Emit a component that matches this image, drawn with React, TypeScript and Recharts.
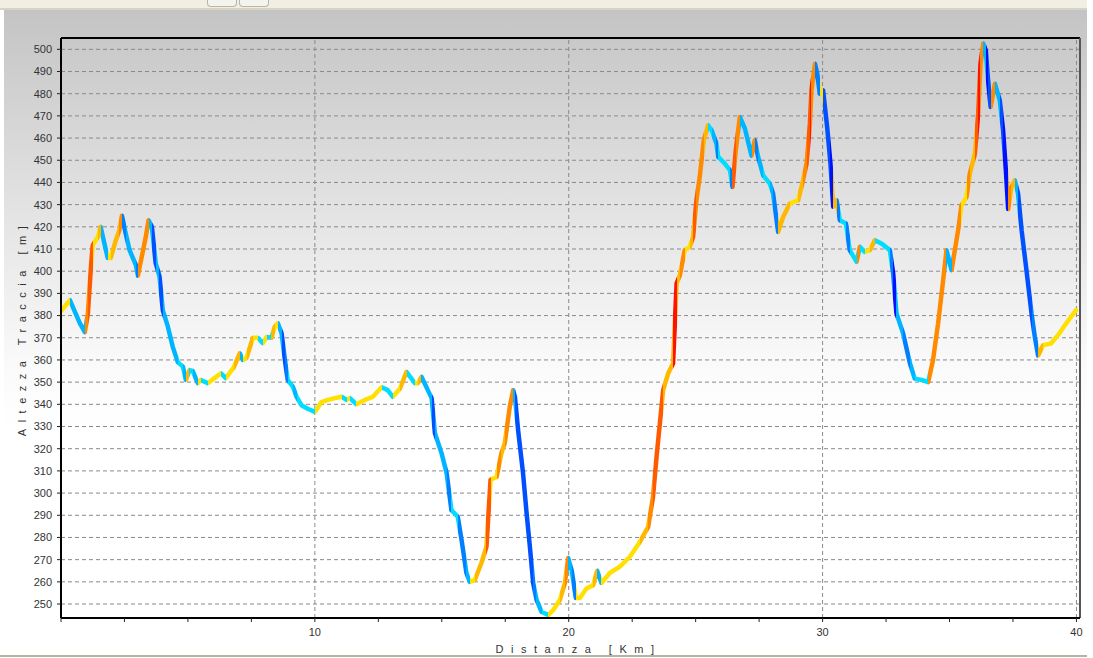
import React from "react";
import {
  LineChart,
  Line,
  XAxis,
  YAxis,
  CartesianGrid,
  ReferenceLine,
  Label,
} from "recharts";

// distance along the track (km) and the altitude at that point (m)
const distanceKm = [
  0.0, 0.35, 0.74, 0.94, 1.06, 1.19, 1.25, 1.45, 1.56, 1.84, 1.96, 2.16, 2.3, 2.4, 2.55, 2.7,
  2.95, 3.03, 3.22, 3.34, 3.45, 3.58, 3.73, 3.88, 4.01, 4.21, 4.4, 4.6, 4.8, 4.92, 5.06, 5.19,
  5.39, 5.51, 5.78, 6.05, 6.3, 6.49, 6.8, 7.04, 7.16, 7.31, 7.56, 7.75, 7.95, 8.1, 8.29, 8.42,
  8.54, 8.69, 8.82, 8.93, 9.13, 9.28, 9.47, 9.72, 10.0, 10.26, 10.51, 10.79, 11.05, 11.25,
  11.38, 11.64, 11.97, 12.28, 12.63, 12.87, 13.07, 13.35, 13.61, 13.94, 14.06, 14.2, 14.45,
  14.6, 14.73, 14.99, 15.19, 15.38, 15.63, 15.78, 15.97, 16.1, 16.3, 16.56, 16.76, 16.92,
  17.16, 17.35, 17.48, 17.68, 17.81, 17.88, 18.01, 18.2, 18.34, 18.47, 18.6, 18.73, 18.93,
  19.19, 19.39, 19.65, 19.85, 19.98, 20.12, 20.28, 20.44, 20.7, 20.96, 21.12, 21.29, 21.62,
  22.01, 22.41, 22.8, 23.13, 23.32, 23.46, 23.59, 23.72, 23.92, 24.11, 24.18, 24.25, 24.38,
  24.57, 24.77, 24.9, 25.03, 25.16, 25.32, 25.49, 25.63, 25.82, 25.89, 26.15, 26.35, 26.45,
  26.58, 26.74, 26.94, 27.2, 27.33, 27.46, 27.66, 27.92, 28.05, 28.25, 28.45, 28.71, 29.04,
  29.23, 29.37, 29.5, 29.56, 29.7, 29.79, 29.89, 30.02, 30.18, 30.31, 30.42, 30.55, 30.68,
  30.92, 31.07, 31.34, 31.47, 31.66, 31.86, 32.06, 32.32, 32.65, 32.78, 32.91, 33.17, 33.44,
  33.63, 33.9, 34.16, 34.35, 34.55, 34.75, 34.88, 35.08, 35.21, 35.34, 35.47, 35.67, 35.8,
  36.0, 36.13, 36.22, 36.33, 36.43, 36.52, 36.62, 36.79, 36.98, 37.11, 37.22, 37.31, 37.44,
  37.57, 37.7, 37.84, 38.03, 38.23, 38.36, 38.49, 38.69, 39.0, 39.33, 39.59, 39.98,
];

const elevationM = [
  382, 387, 376.6, 372.5, 381, 403.6, 411.7, 415.4, 420, 406, 406, 414, 418.5, 425, 417, 409.5,
  402.7, 398, 408.7, 415.5, 423, 420, 403.6, 397.7, 382.4, 375, 366, 359, 357, 351, 355.4, 355,
  349.5, 351, 349.5, 351.8, 354, 351.8, 356.5, 363, 360, 361, 370, 370, 367.6, 370.4, 370, 375,
  376.6, 372, 360, 351, 348, 343.4, 339.6, 338, 336.6, 341, 342, 342.8, 343.4, 342,
  342.8, 340, 342, 343.4, 347.7, 346.4, 343.4, 347, 354.6, 349.5, 349.5, 352.4, 346.4,
  342.8, 327, 318, 309, 292.3, 289.3, 278.8, 264, 260, 260.8, 268.5, 275.8, 306,
  307.3, 318, 322.5, 339, 346.4, 343.4, 328, 309, 291, 275.8, 259.5, 252, 246.5,
  245, 247.3, 251.8, 259.5, 270.7, 265, 252.7, 252.7, 257, 258.5, 265, 259.5, 264,
  266.8, 271.3, 278, 284.8, 298.3, 316.4, 331.4, 346.4, 354, 358.4, 376.4, 394.5, 398.2,
  409.5, 411, 415.5, 432, 442.5, 459, 465.8, 463.5, 457.5, 451.5, 448.5, 445.5, 438,
  454.5, 469.5, 464.3, 452, 459, 451.5, 443.2, 439.5, 435, 417.7, 424.5, 430.5, 432,
  441, 448.5, 466.5, 481.5, 493.5, 489, 480, 481.5, 465, 448.5, 429, 432, 423,
  421.5, 409.5, 404.2, 411, 408.7, 409.5, 414, 412.5, 409.5, 399, 381, 372, 358.5,
  351.6, 351, 350, 360, 376.4, 396, 409.5, 400.5, 409.5, 418.5, 429.7, 433.5, 444,
  453, 471, 493.5, 502.6, 499.5, 486, 474, 484.5, 477, 463.5, 445.5, 428, 438,
  441, 435, 418.5, 400.5, 381, 370.4, 362, 366.7, 367.4, 372, 376.4, 382.4,
];

const yTicks = [250, 260, 270, 280, 290, 300, 310, 320, 330, 340, 350, 360, 370, 380, 390, 400, 410, 420, 430, 440, 450, 460, 470, 480, 490, 500];
const xTicks = [0, 2.5, 5, 7.5, 10, 12.5, 15, 17.5, 20, 22.5, 25, 27.5, 30, 32.5, 35, 37.5, 40];
const xGridKm = [10, 20, 30, 40];

const X_MAX = 40.14;
const Y_MIN = 243.7;
const Y_MAX = 505.1;

const data = distanceKm.map((km, i) => ({ km, alt: elevationM[i] }));

// colour of a stretch by its gradient in percent
function slopeColor(grade: number): string {
  if (grade >= 20) return "#FF1000";
  if (grade >= 11) return "#FF5A00";
  if (grade >= 5) return "#FF8A00";
  if (grade >= 2) return "#FFB800";
  if (grade >= 0) return "#FFE000";
  if (grade >= -2) return "#00DDFF";
  if (grade >= -5) return "#00B4FF";
  if (grade >= -9) return "#0080FF";
  if (grade >= -13) return "#0050FF";
  return "#0010FF";
}

function slopeStops() {
  const first = distanceKm[0];
  const span = distanceKm[distanceKm.length - 1] - first;
  const stops: React.ReactElement[] = [];
  for (let i = 0; i < distanceKm.length - 1; i++) {
    const run = (distanceKm[i + 1] - distanceKm[i]) * 1000;
    const grade = ((elevationM[i + 1] - elevationM[i]) / run) * 100;
    const color = slopeColor(grade);
    stops.push(
      <stop key={`a${i}`} offset={(distanceKm[i] - first) / span} stopColor={color} />,
      <stop key={`b${i}`} offset={(distanceKm[i + 1] - first) / span} stopColor={color} />
    );
  }
  return stops;
}

const axisFont = { fontSize: 11, fill: "#333", fontFamily: "Liberation Sans, Arial, sans-serif" };

export default function App() {
  return (
    <div
      style={{
        position: "absolute",
        left: 0,
        top: 0,
        width: 1093,
        height: 658,
        background: "#fff",
        overflow: "hidden",
      }}
    >
      <div style={{ position: "absolute", left: 0, top: 0, width: 1087, height: 8, background: "#F1EFE4" }} />
      <div style={{ position: "absolute", left: 207, top: 0, width: 28, height: 6, border: "1px solid #B8B4A8", borderTop: "none", borderRadius: "0 0 4px 4px", background: "#F4F3EE" }} />
      <div style={{ position: "absolute", left: 239, top: 0, width: 28, height: 6, border: "1px solid #B8B4A8", borderTop: "none", borderRadius: "0 0 4px 4px", background: "#F4F3EE" }} />
      <div style={{ position: "absolute", left: 0, top: 8, width: 1087, height: 2, background: "#D8D4C4" }} />
      <div
        style={{
          position: "absolute",
          left: 4,
          top: 10,
          width: 1083,
          height: 645,
          background: "linear-gradient(#C4C4C4 0%, #E2E2E2 30%, #FAFAFA 55%, #FFFFFF 65%)",
        }}
      />
      <div style={{ position: "absolute", left: 0, top: 655, width: 1087, height: 2, background: "#B5B2A6" }} />
      <div style={{ position: "absolute", left: 0, top: 0 }}>
        <LineChart width={1093} height={658} data={data} margin={{ top: 38, right: 13, bottom: 0, left: 0 }}>
          <defs>
            <linearGradient id="slope" x1="0" y1="0" x2="1" y2="0">
              {slopeStops()}
            </linearGradient>
          </defs>
          <CartesianGrid vertical={false} stroke="#8a8a8a" strokeDasharray="4 3" />
          {xGridKm.map((km) => (
            <ReferenceLine key={km} x={km} stroke="#8a8a8a" strokeDasharray="4 3" />
          ))}
          <XAxis
            dataKey="km"
            type="number"
            domain={[0, X_MAX]}
            ticks={xTicks}
            interval={0}
            allowDataOverflow
            height={40}
            tickSize={4}
            tickMargin={6}
            tick={axisFont}
            tickLine={{ stroke: "#222" }}
            axisLine={{ stroke: "#000", strokeWidth: 2 }}
            tickFormatter={(v: number) => (v > 0 && v % 10 === 0 ? String(v) : "")}
          >
            <Label
              value="Distanza [Km]"
              position="insideBottom"
              offset={5}
              dx={8}
              style={{ ...axisFont, letterSpacing: 7.5 }}
            />
          </XAxis>
          <YAxis
            type="number"
            domain={[Y_MIN, Y_MAX]}
            ticks={yTicks}
            interval={0}
            allowDataOverflow
            width={61}
            tickSize={4}
            tickMargin={5}
            tick={axisFont}
            tickLine={{ stroke: "#222" }}
            axisLine={{ stroke: "#000", strokeWidth: 2 }}
          >
            <Label
              value="Altezza Traccia [m]"
              angle={-90}
              position="insideLeft"
              offset={22}
              style={{ ...axisFont, letterSpacing: 6.5, textAnchor: "middle" }}
            />
          </YAxis>
          <ReferenceLine y={Y_MAX} stroke="#000" strokeWidth={2} />
          <ReferenceLine x={X_MAX} stroke="#555" strokeWidth={2} />
          <Line
            type="linear"
            dataKey="alt"
            stroke="url(#slope)"
            strokeWidth={4.5}
            strokeLinejoin="round"
            strokeLinecap="round"
            dot={false}
            isAnimationActive={false}
          />
        </LineChart>
      </div>
    </div>
  );
}
